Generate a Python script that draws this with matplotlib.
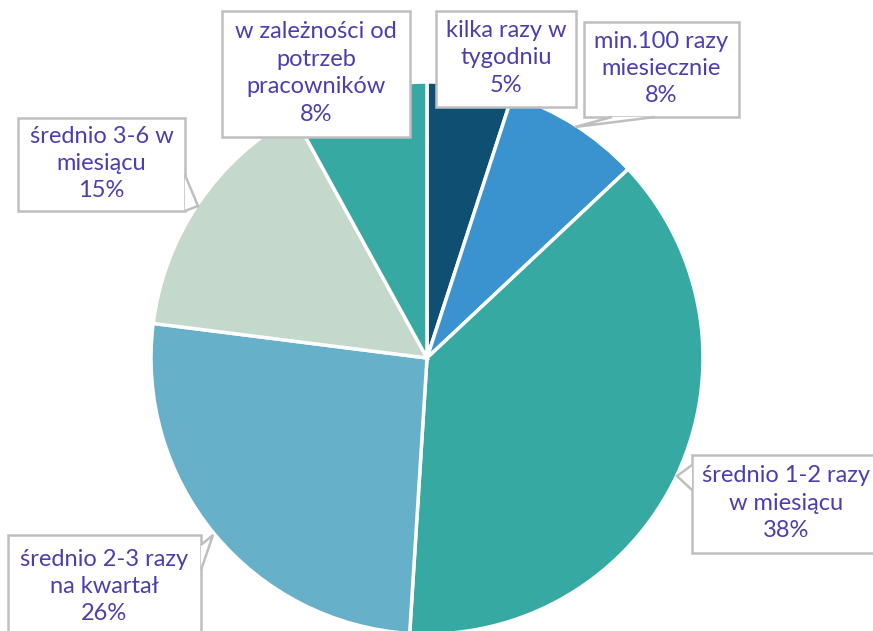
"""Pie chart: how often (Polish survey), callout labels"""
import matplotlib.pyplot as plt
from matplotlib.patches import Polygon, Rectangle

categories = ['kilka razy w\ntygodniu', 'min.100 razy\nmiesiecznie',
              'średnio 1-2 razy\nw miesiącu', 'średnio 2-3 razy\nna kwartał',
              'średnio 3-6 w\nmiesiącu', 'w zależności od\npotrzeb\npracowników']
values = [5, 8, 38, 26, 15, 8]
colors = ['#0E4F72', '#3A93CF', '#35A9A2', '#66B0C9', '#C4D9CC', '#35A9A2']

# callout layout in pixels from top-left: box (x0, y0, x1, y1), pointer (base1, tip, base2)
boxes = [(436, 11, 576, 107), (584, 22, 739, 117), (692, 455, 880, 553),
         (8, 535, 201, 640), (18, 118, 185, 211), (222, 11, 410, 137)]
pointers = [None,
            ((612, 117), (575, 127), (655, 117)),
            ((692, 465), (677, 476), (692, 490)),
            ((201, 545), (213, 535), (201, 570)),
            ((185, 175), (198, 206), (185, 211)),
            None]

W, H = 873, 631
fig = plt.figure(figsize=(W / 100, H / 100), dpi=100)
ax = fig.add_axes([0, 0, 1, 1])

ax.pie(values, colors=colors, startangle=90, counterclock=False,
       center=(427, H - 358), radius=276,
       wedgeprops=dict(edgecolor='white', linewidth=2.5))

ax.set_xlim(0, W)
ax.set_ylim(0, H)
ax.set_aspect('equal')
ax.axis('off')

text_color = '#4B3FAE'
edge = '#BFBFBF'
for cat, val, box, ptr in zip(categories, values, boxes, pointers):
    x0, y0, x1, y1 = box
    ax.add_patch(Rectangle((x0, H - y1), x1 - x0, y1 - y0, facecolor='white',
                           edgecolor=edge, linewidth=1.8, zorder=3))
    if ptr is not None:
        pts = [(px, H - py) for px, py in ptr]
        ax.add_patch(Polygon(pts, closed=False, facecolor='white',
                             edgecolor=edge, linewidth=1.8, zorder=4))
    ax.text((x0 + x1) / 2, H - (y0 + y1) / 2 + 1, f'{cat}\n{val}%',
            ha='center', va='center', fontsize=17, family='Lato',
            color=text_color, linespacing=1.38, zorder=5)

plt.savefig('out.png', dpi=100, facecolor='white')
